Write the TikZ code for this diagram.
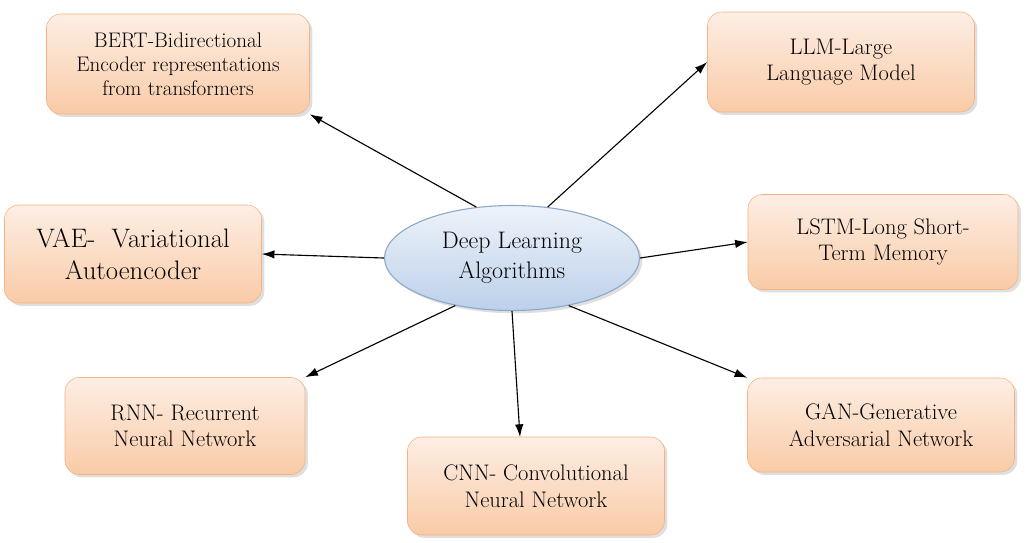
\documentclass[tikz,border=0pt]{standalone}
\usetikzlibrary{shadows,shapes.geometric,arrows.meta}
\definecolor{boxline}{HTML}{F4B183}
\definecolor{boxtop}{HTML}{FDEEE4}
\definecolor{boxbot}{HTML}{F9CBA7}
\definecolor{ellline}{HTML}{8EA9C8}
\definecolor{elltop}{HTML}{EEF3FA}
\definecolor{ellbot}{HTML}{BCD0EA}
\tikzset{
  algo/.style={draw=boxline, rounded corners=10pt, top color=boxtop, bottom color=boxbot,
    align=center, font=\fontsize{16}{19}\selectfont, inner sep=2pt,
    drop shadow={shadow xshift=2pt, shadow yshift=-2pt, fill=black!25}},
  link/.style={-{Latex[length=9pt,width=6pt]}, thick}
}
\begin{document}
\begin{tikzpicture}[x=0.025cm, y=-0.025cm]
    \useasboundingbox (0,0) rectangle (1030,542);

    % center
    \node[ellipse, draw=ellline, thick, top color=elltop, bottom color=ellbot,
      minimum width=255*0.025cm, minimum height=105*0.025cm, align=center,
      font=\fontsize{17}{21}\selectfont,
      drop shadow={shadow xshift=2pt, shadow yshift=-2pt, fill=black!25}]
      (dl) at (512,258) {Deep Learning\\Algorithms};

    % algorithms
    \node[algo, font=\fontsize{15}{17}\selectfont, minimum width=263*0.025cm, minimum height=100*0.025cm] (bert) at (178,64)
      {BERT-Bidirectional\\Encoder representations\\from transformers};
    \node[algo, minimum width=267*0.025cm, minimum height=100*0.025cm] (llm) at (841,62)
      {LLM-Large\\Language Model};
    \node[algo, font=\fontsize{19}{23}\selectfont, minimum width=257*0.025cm, minimum height=98*0.025cm] (vae) at (133,254)
      {VAE-\ \ Variational\\Autoencoder};
    \node[algo, minimum width=270*0.025cm, minimum height=95*0.025cm] (lstm) at (883,242)
      {LSTM-Long Short-\\Term Memory};
    \node[algo, minimum width=240*0.025cm, minimum height=97*0.025cm] (rnn) at (185,426)
      {RNN- Recurrent\\Neural Network};
    \node[algo, minimum width=257*0.025cm, minimum height=98*0.025cm] (cnn) at (536,486)
      {CNN- Convolutional\\Neural Network};
    \node[algo, minimum width=267*0.025cm, minimum height=94*0.025cm] (gan) at (881,425)
      {GAN-Generative\\Adversarial Network};

    % arrow ends
    \coordinate (cnntop) at (520,437);

    % arrows
    \draw[link] (dl.125) -- (bert.south east);
    \draw[link] (dl.55) -- (llm.west);
    \draw[link] (dl.west) -- (vae.east);
    \draw[link] (dl.east) -- (lstm.west);
    \draw[link] (dl.220) -- (rnn.north east);
    \draw[link] (dl.south) -- (cnntop);
    \draw[link] (dl.-40) -- (gan.north west);
\end{tikzpicture}
\end{document}
